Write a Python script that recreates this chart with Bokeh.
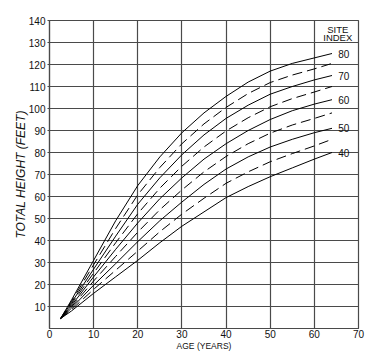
from bokeh.plotting import figure
from bokeh.models import Range1d, FixedTicker
from bokeh.core.properties import value
from bokeh.embed import file_html
from bokeh.resources import INLINE

# Data: total height (feet) by age (years) for each site index
ages = [2.5, 5, 10, 15, 20, 25, 30, 35, 40, 45, 50, 55, 60, 64]
si_40 = [4.5, 8.0, 16.0, 23.5, 31.0, 39.0, 46.5, 53.0, 59.5, 64.5, 69.0, 73.0, 77.0, 80.0]
si_45 = [4.5, 8.6, 17.8, 26.5, 35.2, 44.0, 52.0, 59.2, 66.0, 71.2, 75.8, 79.5, 83.0, 86.0]
si_50 = [4.5, 9.3, 19.7, 29.5, 39.5, 49.0, 57.5, 65.5, 72.5, 78.0, 82.5, 86.0, 89.0, 91.0]
si_55 = [4.5, 9.9, 21.6, 32.8, 43.8, 54.0, 63.0, 71.2, 78.2, 84.0, 88.8, 92.5, 95.5, 98.0]
si_60 = [4.5, 10.5, 23.5, 36.0, 48.0, 59.0, 68.5, 77.0, 84.0, 90.0, 95.0, 99.0, 102.0, 104.0]
si_65 = [4.5, 11.2, 25.2, 39.0, 52.2, 63.8, 73.8, 82.5, 89.8, 95.8, 100.8, 104.5, 107.5, 110.0]
si_70 = [4.5, 11.8, 27.0, 42.0, 56.5, 68.5, 79.0, 88.0, 95.5, 101.5, 106.5, 110.0, 113.0, 115.0]
si_75 = [4.5, 12.4, 29.0, 45.5, 60.8, 73.2, 84.0, 93.0, 100.5, 106.8, 111.8, 115.2, 118.0, 120.5]
si_80 = [4.5, 13.0, 31.0, 49.0, 65.0, 78.0, 89.0, 98.0, 105.5, 112.0, 117.0, 120.5, 123.0, 125.0]

solid_curves = [si_40, si_50, si_60, si_70, si_80]
dashed_curves = [si_45, si_55, si_65, si_75]
solid_labels = ["40", "50", "60", "70", "80"]

x_ticks = [0, 10, 20, 30, 40, 50, 60, 70]
y_ticks = [10, 20, 30, 40, 50, 60, 70, 80, 90, 100, 110, 120, 130, 140]

FONT = "Liberation Sans"
GRID = "#4a4a4a"

p = figure(width=370, height=353, output_backend="svg", toolbar_location=None,
           x_range=Range1d(0, 70), y_range=Range1d(0, 140),
           min_border_left=49, min_border_right=12, min_border_top=20, min_border_bottom=23)

p.background_fill_color = "white"
p.border_fill_color = "white"
p.outline_line_color = GRID
p.outline_line_width = 1.2

for ax in (p.xaxis, p.yaxis):
    ax.axis_line_color = GRID
    ax.axis_line_width = 1.2
    ax.major_tick_line_color = GRID
    ax.minor_tick_line_color = None
    ax.major_tick_in = 0
    ax.major_label_text_font = FONT
    ax.major_label_text_font_size = "10px"
    ax.major_label_text_color = "#111111"
    ax.axis_label_text_font = FONT
    ax.axis_label_text_color = "#111111"
    ax.axis_label_text_font_style = "normal"

p.xaxis.ticker = FixedTicker(ticks=x_ticks)
p.yaxis.ticker = FixedTicker(ticks=y_ticks)
p.xaxis.major_tick_out = 0
p.yaxis.major_tick_out = 2
p.xaxis.major_label_standoff = 1
p.yaxis.major_label_standoff = 2
p.xaxis.axis_label = "AGE (YEARS)"
p.xaxis.axis_label_text_font_size = "8.5px"
p.xaxis.axis_label_standoff = 0
p.yaxis.axis_label = "TOTAL HEIGHT (FEET)"
p.yaxis.axis_label_text_font_size = "12px"
p.yaxis.axis_label_text_font_style = "italic"
p.yaxis.axis_label_standoff = -2

p.xgrid.ticker = FixedTicker(ticks=x_ticks)
p.ygrid.ticker = FixedTicker(ticks=y_ticks)
for g in (p.xgrid, p.ygrid):
    g.grid_line_color = GRID
    g.grid_line_width = 1.2

for c in solid_curves:
    p.line(ages, c, line_color="black", line_width=1)
for c in dashed_curves:
    p.line(ages, c, line_color="black", line_width=1, line_dash="10 5")

label_x = 65.4
p.text(x=[label_x] * len(solid_labels), y=[c[-1] for c in solid_curves], text=solid_labels,
       text_font=value(FONT), text_font_size="10px", text_align="left",
       text_baseline="middle", text_color="#111111")

p.text(x=[65.3, 65.3], y=[135.9, 132.3], text=["SITE", "INDEX"],
       text_font=value(FONT), text_font_size="9.5px", text_align="center",
       text_baseline="middle", text_color="#111111")

open("out.html", "w").write(file_html(p, INLINE))
